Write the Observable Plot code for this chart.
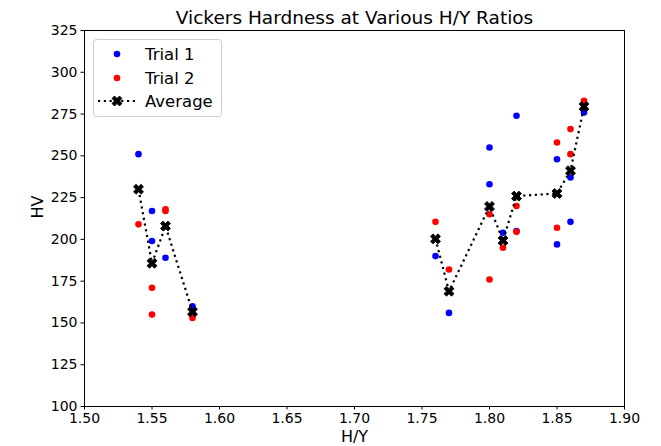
<!DOCTYPE html>
<html><head><meta charset="utf-8">
<script src="https://cdn.jsdelivr.net/npm/d3@7"></script>
<script src="https://cdn.jsdelivr.net/npm/@observablehq/plot@0.6"></script>
<style>
body{margin:0;background:#fff}
svg{font-family:"DejaVu Sans",sans-serif}
</style>
</head><body><div id="chart"></div>
<script>
const chartTitle = "Vickers Hardness at Various H/Y Ratios";
const xLabel = "H/Y";
const yLabel = "HV";
const seriesNames = ["Trial 1", "Trial 2", "Average"];

const trial1X = [1.54, 1.55, 1.55, 1.56, 1.58, 1.76, 1.77, 1.80, 1.80, 1.81, 1.82, 1.82, 1.85, 1.85, 1.86, 1.86, 1.87];
const trial1Y = [251, 217, 199, 189, 160, 190, 156, 255, 233, 204, 274, 205, 248, 197, 237, 210.5, 276];

const trial2X = [1.54, 1.55, 1.55, 1.56, 1.56, 1.58, 1.76, 1.77, 1.80, 1.80, 1.81, 1.82, 1.82, 1.85, 1.85, 1.86, 1.86, 1.87];
const trial2Y = [209, 171, 155, 218, 217, 153, 210.5, 182, 215, 176, 195, 220, 204.5, 258, 207, 266, 251, 283];

const avgX = [1.54, 1.55, 1.56, 1.58, 1.76, 1.77, 1.80, 1.81, 1.82, 1.85, 1.86, 1.87];
const avgY = [230, 185.7, 208, 156.7, 200.3, 169, 219.7, 199.3, 225.9, 227.5, 241.1, 279.5];

const xTicks = [1.50, 1.55, 1.60, 1.65, 1.70, 1.75, 1.80, 1.85, 1.90];
const yTicks = [100, 125, 150, 175, 200, 225, 250, 275, 300, 325];

const t1 = trial1X.map((x, i) => ({x, y: trial1Y[i]}));
const t2 = trial2X.map((x, i) => ({x, y: trial2Y[i]}));
const avg = avgX.map((x, i) => ({x, y: avgY[i], seg: x < 1.7 ? "a" : "b"}));

function xPath(ctx) {
  const a = 5.3, b = 1.8, c = Math.SQRT1_2;
  const pts = [[b,a],[b,b],[a,b],[a,-b],[b,-b],[b,-a],[-b,-a],[-b,-b],[-a,-b],[-a,b],[-b,b],[-b,a]];
  pts.forEach(([x, y], i) => {
    const X = (x - y) * c, Y = (x + y) * c;
    i ? ctx.lineTo(X, Y) : ctx.moveTo(X, Y);
  });
  ctx.closePath();
}
const filledX = { draw(ctx, size) { xPath(ctx); } };
const dash = "2.2,3.6";

const plot = Plot.plot({
  width: 661,
  height: 446,
  marginLeft: 84,
  marginRight: 37,
  marginTop: 30,
  marginBottom: 40,
  style: {fontFamily: "DejaVu Sans", fontSize: "14px", background: "white", color: "black"},
  x: {domain: [1.5, 1.9]},
  y: {domain: [100, 325]},
  marks: [
    Plot.axisX({ticks: xTicks, tickFormat: d3.format(".2f"), tickSize: 3.5, tickPadding: 3.5, fontSize: 14, label: null}),
    Plot.axisY({ticks: yTicks, tickFormat: d3.format("d"), tickSize: 3.5, tickPadding: 3.5, fontSize: 14, label: null}),
    Plot.frame({stroke: "black", strokeWidth: 1}),
    Plot.dot(t1, {x: "x", y: "y", r: 3.3, fill: "blue", stroke: "none"}),
    Plot.dot(t2, {x: "x", y: "y", r: 3.3, fill: "red", stroke: "none"}),
    Plot.line(avg, {x: "x", y: "y", z: "seg", stroke: "black", strokeWidth: 2.2, strokeDasharray: dash, strokeLinecap: "butt", curve: "linear"}),
    Plot.dot(avg, {x: "x", y: "y", symbol: filledX, fill: "black", stroke: "black", strokeWidth: 0.8}),
    Plot.text([chartTitle], {frameAnchor: "top", lineAnchor: "middle", dy: -12, text: d => d, fontSize: 18.5, fill: "black"}),
    Plot.text([xLabel], {frameAnchor: "bottom", lineAnchor: "middle", dy: 30, text: d => d, fontSize: 16, fill: "black"}),
    Plot.text([yLabel], {frameAnchor: "left", lineAnchor: "middle", dx: -47, rotate: -90, text: d => d, fontSize: 16, fill: "black"})
  ]
});

document.getElementById("chart").appendChild(plot);

// Legend
const svg = d3.select(plot);
const lg = svg.append("g").attr("font-family", "DejaVu Sans").attr("font-size", 16.5).attr("text-anchor", "start");
lg.append("rect").attr("x", 93.5).attr("y", 39.5).attr("width", 128).attr("height", 77)
  .attr("rx", 3).attr("fill", "white").attr("fill-opacity", 0.8).attr("stroke", "#cccccc");
const rows = [54, 78, 101];
const colors = ["blue", "red", "black"];
seriesNames.forEach((name, i) => {
  const y = rows[i];
  if (i < 2) {
    lg.append("circle").attr("cx", 117).attr("cy", y).attr("r", 3.3).attr("fill", colors[i]);
  } else {
    lg.append("line").attr("x1", 98).attr("x2", 137).attr("y1", y).attr("y2", y)
      .attr("stroke", "black").attr("stroke-width", 2.2).attr("stroke-dasharray", dash);
    const p = d3.path(); xPath(p);
    lg.append("path").attr("d", p.toString()).attr("transform", `translate(117,${y})`)
      .attr("fill", "black").attr("stroke", "black").attr("stroke-width", 0.8);
  }
  lg.append("text").attr("x", 145).attr("y", y).attr("dy", "0.36em")
    .attr("font-size", 16.5).attr("text-anchor", "start").attr("fill", "black").text(name);
});
</script>
</body></html>
